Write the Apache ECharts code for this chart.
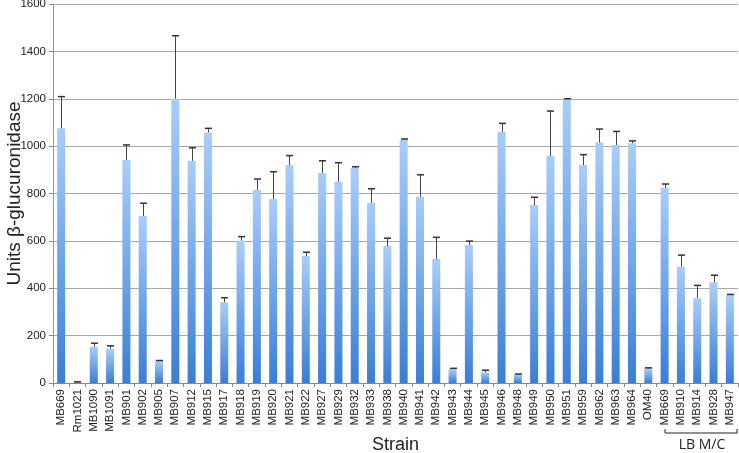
<!DOCTYPE html>
<html>
<head>
<meta charset="utf-8">
<script src="https://cdn.jsdelivr.net/npm/echarts@6/dist/echarts.min.js"></script>
<style>
  html, body { margin: 0; padding: 0; background: #fff; }
  #chart { width: 739px; height: 453px; }
</style>
</head>
<body>
<div id="chart"></div>
<script>
// strain names along the x axis
const strains = [
  'MB669', 'Rm1021', 'MB1090', 'MB1091', 'MB901', 'MB902', 'MB905', 'MB907',
  'MB912', 'MB915', 'MB917', 'MB918', 'MB919', 'MB920', 'MB921', 'MB922',
  'MB927', 'MB929', 'MB932', 'MB933', 'MB938', 'MB940', 'MB941', 'MB942',
  'MB943', 'MB944', 'MB945', 'MB946', 'MB948', 'MB949', 'MB950', 'MB951',
  'MB959', 'MB962', 'MB963', 'MB964', 'OM40', 'MB669', 'MB910', 'MB914',
  'MB928', 'MB947'
];

// mean activity (units beta-glucuronidase)
const means = [
  1075, 3, 153, 144, 941, 705, 93, 1200,
  938, 1058, 341, 601, 815, 777, 920, 536,
  887, 850, 909, 761, 578, 1026, 786, 523,
  59, 583, 45, 1061, 37, 751, 958, 1198,
  920, 1016, 1005, 1012, 62, 823, 491, 358,
  425, 372
];

// top of the error bar (mean + sd)
const upper = [
  1209, 5, 168, 157, 1005, 759, 95, 1466,
  993, 1075, 360, 618, 861, 892, 960, 552,
  938, 930, 913, 820, 611, 1030, 879, 615,
  62, 599, 54, 1096, 38, 784, 1148, 1200,
  964, 1072, 1062, 1022, 64, 840, 540, 412,
  455, 374
];

const yTicks = [0, 200, 400, 600, 800, 1000, 1200, 1400, 1600];

const barColor = new echarts.graphic.LinearGradient(0, 0, 0, 1, [
  { offset: 0, color: '#a9cdfb' },
  { offset: 1, color: '#3a7ed6' }
]);

const option = {
  animation: false,
  grid: { left: 53, right: 1, top: 4, bottom: 70, outerBoundsMode: 'none' },
  xAxis: {
    type: 'category',
    data: strains,
    name: 'Strain',
    nameLocation: 'middle',
    nameGap: 53,
    nameMoveOverlap: false,
    nameTextStyle: { fontSize: 18, color: '#222', fontFamily: 'Liberation Sans' },
    axisLine: { lineStyle: { color: '#888' } },
    axisTick: { show: true, alignWithLabel: false, length: 4, lineStyle: { color: '#888' } },
    axisLabel: {
      rotate: 90, interval: 0, fontSize: 11.5, color: '#222',
      fontFamily: 'Liberation Sans', margin: 6
    }
  },
  yAxis: {
    type: 'value',
    min: yTicks[0],
    max: yTicks[yTicks.length - 1],
    interval: 200,
    name: 'Units β-glucuronidase',
    nameLocation: 'middle',
    nameGap: 29,
    nameMoveOverlap: false,
    nameTextStyle: { fontSize: 19, color: '#222', fontFamily: 'Liberation Sans' },
    axisLine: { show: true, lineStyle: { color: '#999' } },
    axisTick: { show: true, length: 4, lineStyle: { color: '#888' } },
    axisLabel: {
      fontSize: 11.5, color: '#222', fontFamily: 'Liberation Sans', margin: 7,
      formatter: v => String(v)
    },
    splitLine: { lineStyle: { color: '#a8a8a8', width: 1 } }
  },
  series: [
    {
      type: 'bar',
      data: means,
      barWidth: 8,
      itemStyle: { color: barColor }
    },
    {
      type: 'custom',
      data: upper.map((u, i) => [i, means[i], u]),
      z: 5,
      renderItem: function (params, api) {
        const lo = api.coord([api.value(0), api.value(1)]);
        const hi = api.coord([api.value(0), api.value(2)]);
        const x = Math.round(lo[0]) + 0.5;
        return {
          type: 'group',
          children: [
            { type: 'line', shape: { x1: x, y1: lo[1], x2: x, y2: hi[1] },
              style: { stroke: '#444', lineWidth: 1 } },
            { type: 'line', shape: { x1: x - 3.5, y1: hi[1], x2: x + 3.5, y2: hi[1] },
              style: { stroke: '#333', lineWidth: 1.5 } }
          ]
        };
      }
    }
  ],
  graphic: [
    {
      type: 'polyline',
      shape: { points: [[665, 429], [665, 433], [737, 433], [737, 429]] },
      style: { stroke: '#222', lineWidth: 1, fill: null }
    },
    {
      type: 'text',
      x: 702, y: 445,
      style: {
        text: 'LB M/C', fontSize: 14, fill: '#222', fontFamily: 'Open Sans',
        align: 'center', verticalAlign: 'middle'
      }
    }
  ]
};

const myChart = echarts.init(document.getElementById('chart'));
myChart.setOption(option);
</script>
</body>
</html>
